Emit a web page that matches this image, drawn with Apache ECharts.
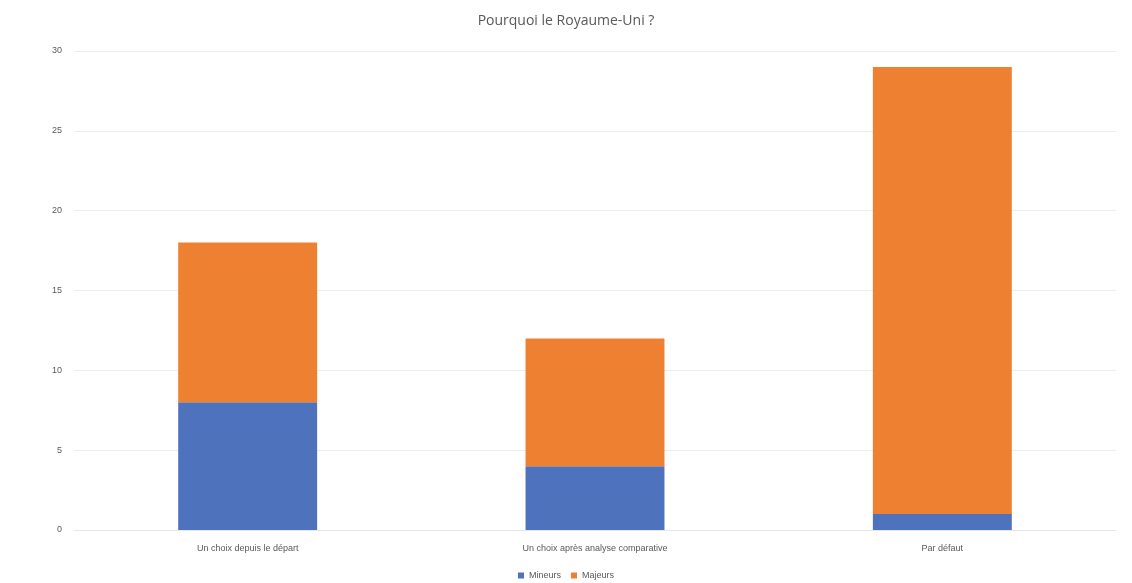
<!DOCTYPE html>
<html><head><meta charset="utf-8">
<script src="https://cdn.jsdelivr.net/npm/echarts@6/dist/echarts.min.js"></script>
<style>html,body{margin:0;padding:0;background:#fff}#c{width:1132px;height:583px}</style>
</head><body><div id="c"></div>
<script>
const categories = ['Un choix depuis le départ', 'Un choix après analyse comparative', 'Par défaut'];
const mineurs = [8, 4, 1];
const majeurs = [10, 8, 28];
const yTicks = {min: 0, max: 30, interval: 5};

const chart = echarts.init(document.getElementById('c'));
chart.setOption({
  animation: false,
  backgroundColor: '#fff',
  title: {text: 'Pourquoi le Royaume-Uni ?', left: 'center', top: 9,
    textStyle: {fontFamily: 'Open Sans', fontSize: 14, fontWeight: 'normal', color: '#595959'}},
  legend: {top: 566, left: 'center', itemWidth: 6, itemHeight: 6, itemGap: 10,
    icon: 'rect', textStyle: {fontFamily: 'Liberation Sans Narrow, Liberation Sans', fontSize: 9, color: '#595959'},
    data: ['Mineurs', 'Majeurs']},
  grid: {left: 74, right: 16, top: 51, bottom: 53},
  xAxis: {type: 'category', data: categories,
    axisLine: {lineStyle: {color: '#e6e6e6'}}, axisTick: {show: false},
    axisLabel: {fontFamily: 'Liberation Sans Narrow, Liberation Sans', fontSize: 9, color: '#595959', margin: 14}},
  yAxis: {type: 'value', min: yTicks.min, max: yTicks.max, interval: yTicks.interval,
    axisLine: {show: false}, axisTick: {show: false},
    splitLine: {lineStyle: {color: '#ececec'}},
    axisLabel: {fontFamily: 'Liberation Sans Narrow, Liberation Sans', fontSize: 9, color: '#595959', margin: 12}},
  series: [
    {name: 'Mineurs', type: 'bar', stack: 's', data: mineurs, barWidth: '40%', itemStyle: {color: '#4f72bd'}},
    {name: 'Majeurs', type: 'bar', stack: 's', data: majeurs, barWidth: '40%', itemStyle: {color: '#ee8032'}}
  ]
});
</script></body></html>
